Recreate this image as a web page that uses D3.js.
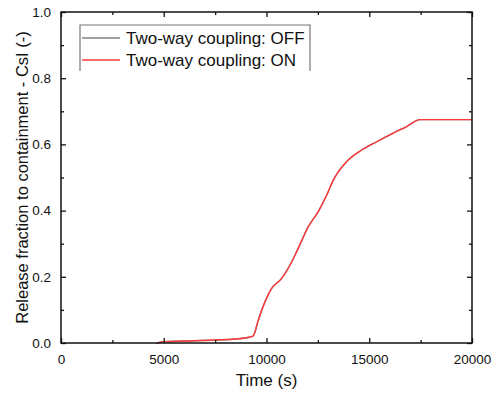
<!DOCTYPE html>
<html>
<head>
<meta charset="utf-8">
<script src="https://cdn.jsdelivr.net/npm/d3@7"></script>
<style>
  html, body { margin: 0; padding: 0; background: #fff; }
  svg { display: block; font-family: "Liberation Sans", Arial, sans-serif; }
</style>
</head>
<body>
<div id="chart"></div>
<script>
// Values
const timeS = [4650, 5000, 6000, 7500, 8500, 9200, 9360, 9600, 9930, 10250, 10740, 11060, 11470, 12030, 12520, 12930, 13250, 13900, 14630, 15360, 16170, 16820, 17470, 20000];
const releaseOn = [0.0, 0.004, 0.006, 0.009, 0.012, 0.018, 0.022, 0.069, 0.125, 0.165, 0.195, 0.226, 0.276, 0.351, 0.397, 0.447, 0.492, 0.548, 0.583, 0.608, 0.634, 0.654, 0.675, 0.675];
const releaseOff = [0.0, 0.004, 0.006, 0.009, 0.012, 0.018, 0.022, 0.069, 0.125, 0.165, 0.195, 0.226, 0.276, 0.351, 0.397, 0.447, 0.492, 0.548, 0.583, 0.608, 0.634, 0.654, 0.675, 0.675];
const seriesNames = ['Two-way coupling: OFF', 'Two-way coupling: ON'];
const seriesColors = ['#808080', '#ff3b3b'];
const xTicks = [0, 5000, 10000, 15000, 20000];
const xMinorTicks = [2500, 7500, 12500, 17500];
const yTicks = [0.0, 0.2, 0.4, 0.6, 0.8, 1.0];
const yMinorTicks = [0.1, 0.3, 0.5, 0.7, 0.9];

const W = 498, H = 394;
const margin = { top: 12, right: 26, bottom: 51, left: 61 };
const iw = W - margin.left - margin.right;
const ih = H - margin.top - margin.bottom;

const svg = d3.select('#chart').append('svg')
  .attr('width', W)
  .attr('height', H);

const g = svg.append('g').attr('transform', `translate(${margin.left},${margin.top})`);

const x = d3.scaleLinear().domain([0, 20000]).range([0, iw]);
const y = d3.scaleLinear().domain([0, 1]).range([ih, 0]);

// series lines (OFF underneath, ON on top)
const line = d3.line().x(d => x(d[0])).y(d => y(d[1])).curve(d3.curveMonotoneX);
const series = [
  d3.zip(timeS, releaseOff),
  d3.zip(timeS, releaseOn)
];
series.forEach((pts, i) => {
  g.append('path')
    .datum(pts)
    .attr('fill', 'none')
    .attr('stroke', seriesColors[i])
    .attr('stroke-width', 1.4)
    .attr('stroke-linejoin', 'round')
    .attr('d', line);
});

// axes: ticks inside on all four sides
const axisStyle = sel => {
  sel.select('.domain').remove();
  sel.selectAll('.tick line').attr('stroke', '#111').attr('stroke-width', 1.3);
  sel.selectAll('text').attr('font-size', 13.5).attr('fill', '#111')
    .attr('font-family', '"Liberation Sans", Arial, sans-serif');
};

g.append('g').attr('transform', `translate(0,${ih})`)
  .call(d3.axisBottom(x).tickValues(xTicks).tickSize(-5).tickPadding(11).tickFormat(d3.format('d')))
  .call(axisStyle);
g.append('g').attr('transform', `translate(0,${ih})`)
  .call(d3.axisBottom(x).tickValues(xMinorTicks).tickSize(-3).tickFormat(''))
  .call(axisStyle);
g.append('g')
  .call(d3.axisTop(x).tickValues(xTicks).tickSize(-5).tickFormat(''))
  .call(axisStyle);
g.append('g')
  .call(d3.axisTop(x).tickValues(xMinorTicks).tickSize(-3).tickFormat(''))
  .call(axisStyle);

g.append('g')
  .call(d3.axisLeft(y).tickValues(yTicks).tickSize(-5).tickPadding(10).tickFormat(d3.format('.1f')))
  .call(axisStyle);
g.append('g')
  .call(d3.axisLeft(y).tickValues(yMinorTicks).tickSize(-3).tickFormat(''))
  .call(axisStyle);
g.append('g').attr('transform', `translate(${iw},0)`)
  .call(d3.axisRight(y).tickValues(yTicks).tickSize(-5).tickFormat(''))
  .call(axisStyle);
g.append('g').attr('transform', `translate(${iw},0)`)
  .call(d3.axisRight(y).tickValues(yMinorTicks).tickSize(-3).tickFormat(''))
  .call(axisStyle);

// frame
g.append('rect')
  .attr('width', iw).attr('height', ih)
  .attr('fill', 'none')
  .attr('stroke', '#111')
  .attr('stroke-width', 1.5);

// axis titles
svg.append('text')
  .attr('x', margin.left + iw / 2)
  .attr('y', 386)
  .attr('text-anchor', 'middle')
  .attr('font-size', 17)
  .attr('fill', '#111')
  .text('Time (s)');

svg.append('text')
  .attr('transform', `translate(28,${margin.top + ih / 2}) rotate(-90)`)
  .attr('text-anchor', 'middle')
  .attr('font-size', 16.5)
  .attr('fill', '#111')
  .text('Release fraction to containment - CsI (-)');

// legend (box open at the bottom as in the reference)
const lg = svg.append('g');
const lx0 = 80, lx1 = 310, ly0 = 25, ly1 = 71;
lg.append('path')
  .attr('d', `M${lx0},${ly1}V${ly0}H${lx1}V${ly1}`)
  .attr('fill', 'none')
  .attr('stroke', '#777')
  .attr('stroke-width', 1.2);
seriesNames.forEach((name, i) => {
  const cy = 38 + i * 22;
  lg.append('line')
    .attr('x1', 82).attr('x2', 120)
    .attr('y1', cy).attr('y2', cy)
    .attr('stroke', seriesColors[i])
    .attr('stroke-width', 1.4);
  lg.append('text')
    .attr('x', 126).attr('y', cy + 6)
    .attr('font-size', 17)
    .attr('fill', '#111')
    .text(name);
});
</script>
</body>
</html>
